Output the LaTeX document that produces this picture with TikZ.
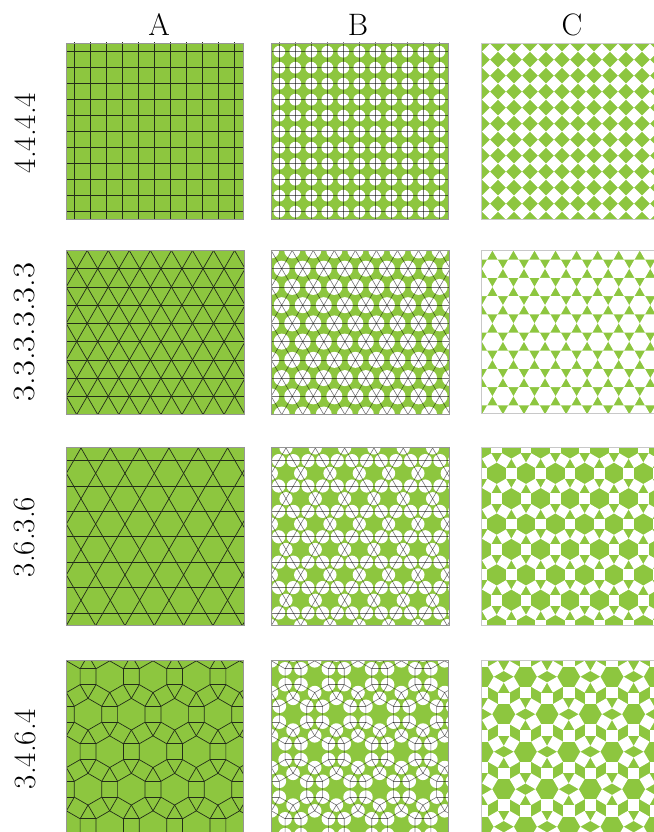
\documentclass[tikz,border=0pt]{standalone}
\usepackage{fontspec}
\usepackage{graphicx}
\definecolor{leaf}{RGB}{141,198,63}
\definecolor{edgecol}{RGB}{35,45,25}
\definecolor{frm}{RGB}{150,150,150}
\definecolor{frmc}{RGB}{200,200,200}
\tikzset{
  aline/.style={draw=edgecol, line width=0.7pt},
  bline/.style={draw=black, draw opacity=0.55, line width=0.6pt},
  frame/.style={draw=frm, line width=0.9pt},
  framec/.style={draw=frmc, line width=0.9pt},
  lab/.style={font=\fontsize{31}{37}\selectfont, inner sep=0pt},
  hole/.style={fill=white},
}
% ---------- row 1 : square grid ----------
\newcommand{\sqlines}[3]{%
  \foreach \k in {0,...,10}{%
    \draw[#3] ({#1+16*\k},35) -- ({#1+16*\k},230);
    \draw[#3] (50,{#2+16*\k}) -- (670,{#2+16*\k});
  }}
\newcommand{\sqvertices}[4]{%
  \foreach \j in {#3}{\foreach \i in {#3}{%
    \pgfmathsetmacro{\vx}{#1+16*\i}\pgfmathsetmacro{\vy}{#2+16*\j}#4}}}
% ---------- row 2 : triangular grid ----------
\newcommand{\trilines}[2]{%
  \foreach \j in {-1,...,9}{\draw[#2] ({#1-40},{268.7+18.23*\j}) -- ({#1+200},{268.7+18.23*\j});}
  \foreach \i in {-10,...,18}{%
    \draw[#2] ({#1+21.05*\i-120},60.85) -- ({#1+21.05*\i+120},476.55);
    \draw[#2] ({#1+21.05*\i+120},60.85) -- ({#1+21.05*\i-120},476.55);
  }}
\newcommand{\trivertices}[2]{%
  \foreach \j in {-1,...,9}{\foreach \i in {-1,...,9}{%
    \pgfmathsetmacro{\vx}{#1+21.05*\i+10.525*mod(\j+2,2)}%
    \pgfmathsetmacro{\vy}{268.7+18.23*\j}#2}}}
% ---------- row 3 : kagome ----------
\newcommand{\kaglines}[2]{%
  \foreach \k in {-1,...,8}{\draw[#2] ({#1-60},{460.6+25.39*\k}) -- ({#1+200},{460.6+25.39*\k});}
  \foreach \k in {-8,...,12}{%
    \draw[#2] ({#1+14.66+29.32*\k-120},265.45) -- ({#1+14.66+29.32*\k+120},681.15);
    \draw[#2] ({#1+14.66+29.32*\k+120},265.45) -- ({#1+14.66+29.32*\k-120},681.15);
  }}
\newcommand{\kagcenters}[2]{%
  \foreach \j in {-1,...,7}{\foreach \i in {-2,...,6}{%
    \pgfmathsetmacro{\hx}{#1+29.32*\i+14.66*mod(\j+2,2)}%
    \pgfmathsetmacro{\hy}{473.3+25.39*\j}#2}}}
% ---------- row 4 : rhombitrihexagonal ----------
\newcommand{\rhcenters}[2]{%
  \foreach \j in {-1,...,5}{\foreach \i in {-2,...,4}{%
    \pgfmathsetmacro{\hx}{#1+43.3*\i+21.65*mod(\j+2,2)}%
    \pgfmathsetmacro{\hy}{676.7+37.5*\j}#2}}}
\newcommand{\rhedges}[1]{%
  \draw[#1, shift={(\hx,\hy)}] (30:15.85) -- (90:15.85) -- (150:15.85) -- (210:15.85) -- (270:15.85) -- (330:15.85) -- cycle;
  \foreach \t in {0,60,120}{%
    \draw[#1, shift={(\hx,\hy)}] ({\t+30}:15.85) -- ({43.3*cos(\t)+15.85*cos(\t+150)},{43.3*sin(\t)+15.85*sin(\t+150)})
       ({\t-30}:15.85) -- ({43.3*cos(\t)+15.85*cos(\t-150)},{43.3*sin(\t)+15.85*sin(\t-150)});
  }}
\begin{document}
\begin{tikzpicture}[x=1pt,y=-1pt]
\useasboundingbox (0,0) rectangle (653,832);
% labels
\node[lab] (colA) at (159,25) {A};
\node[lab] (colB) at (358,25) {B};
\node[lab] (colC) at (572,25) {C};
\node[lab,rotate=90] (rowA) at (25,133) {4.4.4.4};
\node[lab,rotate=90] (rowB) at (25,332) {\scalebox{1.12}[1]{3.3.3.3.3.3}};
\node[lab,rotate=90] (rowC) at (25,537) {3.6.3.6};
\node[lab,rotate=90] (rowD) at (25,749) {3.4.6.4};

% ===== Row 1 =====
\begin{scope}
  \clip (66,43) rectangle (243,219.3);
  \fill[leaf] (66,43) rectangle (243,219.3);
  \sqlines{74.3}{51.7}{aline}
\end{scope}
\draw[frame] (66,43) rectangle (243,219.3);
\begin{scope}
  \clip (271,43) rectangle (448,219.3);
  \fill[leaf] (271,43) rectangle (448,219.3);
  \sqvertices{279.3}{51.7}{0,...,10}{\fill[hole] (\vx,\vy) circle[radius=5.9pt];}
  \sqlines{279.3}{51.7}{bline}
\end{scope}
\draw[frame] (271,43) rectangle (448,219.3);
\begin{scope}
  \clip (481.7,43.3) rectangle (660,219);
  \fill[leaf] (481.7,43.3) rectangle (660,219);
  \sqvertices{490}{51.7}{-1,...,11}{\fill[hole, shift={(\vx,\vy)}] (8,0) -- (0,8) -- (-8,0) -- (0,-8) -- cycle;}
\end{scope}
\draw[framec] (481.7,43.3) rectangle (660,219);

% ===== Row 2 =====
\begin{scope}
  \clip (66,250.3) rectangle (244.3,414);
  \fill[leaf] (66,250.3) rectangle (244.3,414);
  \trilines{76.7}{aline}
\end{scope}
\draw[frame] (66,250.3) rectangle (244.3,414);
\begin{scope}
  \clip (271,250.3) rectangle (449.3,414);
  \fill[leaf] (271,250.3) rectangle (449.3,414);
  \trivertices{281.7}{\fill[hole] (\vx,\vy) circle[radius=8pt];}
  \trilines{281.7}{bline}
\end{scope}
\draw[frame] (271,250.3) rectangle (449.3,414);
\begin{scope}
  \clip (481.7,250.3) rectangle (660,413.5);
  \fill[leaf] (481.7,250.3) rectangle (660,413.5);
  \trivertices{492.4}{\fill[hole, shift={(\vx,\vy)}] (0:10.525) -- (60:10.525) -- (120:10.525) -- (180:10.525) -- (240:10.525) -- (300:10.525) -- cycle;}
\end{scope}
\draw[framec] (481.7,250.3) rectangle (660,413.5);

% ===== Row 3 =====
\begin{scope}
  \clip (66,447.3) rectangle (244.3,625.5);
  \fill[leaf] (66,447.3) rectangle (244.3,625.5);
  \kaglines{110.3}{aline}
\end{scope}
\draw[frame] (66,447.3) rectangle (244.3,625.5);
\begin{scope}
  \clip (271,447.3) rectangle (449.3,625.5);
  \fill[leaf] (271,447.3) rectangle (449.3,625.5);
  \kagcenters{315.3}{%
    \fill[hole] ({\hx+14.66},\hy) circle[radius=6.6pt];
    \fill[hole] ({\hx+7.33},{\hy+12.7}) circle[radius=6.6pt];
    \fill[hole] ({\hx-7.33},{\hy+12.7}) circle[radius=6.6pt];}
  \kaglines{315.3}{bline}
\end{scope}
\draw[frame] (271,447.3) rectangle (449.3,625.5);
\begin{scope}
  \clip (481.7,447.3) rectangle (660,625);
  \fill[leaf] (481.7,447.3) rectangle (660,625);
  \kagcenters{526}{%
    \fill[hole, shift={({\hx+14.66},\hy)}] (45:7.59) -- (135:7.59) -- (225:7.59) -- (315:7.59) -- cycle;
    \fill[hole, shift={({\hx+7.33},{\hy+12.7})}] (105:7.59) -- (195:7.59) -- (285:7.59) -- (15:7.59) -- cycle;
    \fill[hole, shift={({\hx-7.33},{\hy+12.7})}] (165:7.59) -- (255:7.59) -- (345:7.59) -- (75:7.59) -- cycle;}
\end{scope}
\draw[framec] (481.7,447.3) rectangle (660,625);

% ===== Row 4 =====
\begin{scope}
  \clip (66,660.7) rectangle (243,840);
  \fill[leaf] (66,660.7) rectangle (243,840);
  \rhcenters{109.7}{\rhedges{aline}}
\end{scope}
\draw[frame] (66,660.7) rectangle (243,840);
\begin{scope}
  \clip (271,660.7) rectangle (448,840);
  \fill[leaf] (271,660.7) rectangle (448,840);
  \rhcenters{314.7}{%
    \foreach \p in {30,90,...,330}{\fill[hole, shift={(\hx,\hy)}] (\p:15.85) circle[radius=6.8pt];}}
  \rhcenters{314.7}{\rhedges{bline}}
\end{scope}
\draw[frame] (271,660.7) rectangle (448,840);
\begin{scope}
  \clip (481.7,660.7) rectangle (660,840);
  \fill[leaf] (481.7,660.7) rectangle (660,840);
  \rhcenters{525.4}{%
    \foreach \p in {30,90,...,330}{\fill[hole, shift={(\hx,\hy)}, shift={(\p:15.85)}] ({\p+45}:8.2) -- ({\p+135}:8.2) -- ({\p+225}:8.2) -- ({\p+315}:8.2) -- cycle;}}
\end{scope}
\draw[framec] (481.7,660.7) rectangle (660,840);
\end{tikzpicture}
\end{document}
